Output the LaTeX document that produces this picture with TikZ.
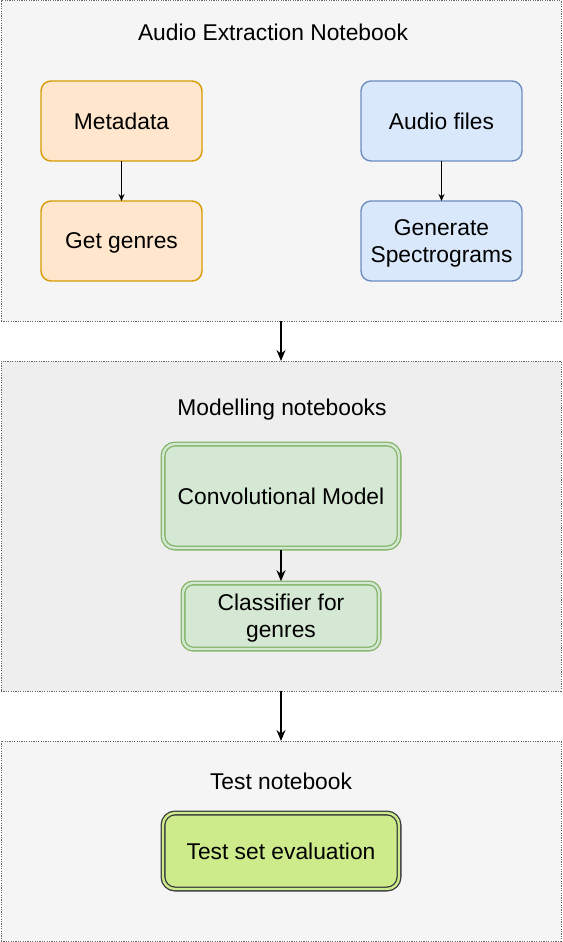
\documentclass[tikz,border=0pt]{standalone}
\usepackage{fontspec}
\setmainfont{Liberation Sans}
\usetikzlibrary{arrows.meta}
\definecolor{contfill}{HTML}{F5F5F5}
\definecolor{contfilltwo}{HTML}{EEEEEE}
\definecolor{contline}{HTML}{666666}
\definecolor{orfill}{HTML}{FFE6CC}
\definecolor{orline}{HTML}{D79B00}
\definecolor{blfill}{HTML}{DAE8FC}
\definecolor{blline}{HTML}{6C8EBF}
\definecolor{grfill}{HTML}{D5E8D4}
\definecolor{grline}{HTML}{82B366}
\definecolor{limefill}{HTML}{CDEB8B}
\definecolor{darkline}{HTML}{36393D}
\tikzset{
  container/.style={draw=contline, line width=1pt, dash pattern=on 1.2pt off 1.2pt, inner sep=0pt, outer sep=0pt},
  titletext/.style={inner sep=0pt, font=\fontsize{22.8}{27}\selectfont},
  procbox/.style={rounded corners=10pt, line width=1.4pt, minimum width=161pt, minimum height=80pt, inner sep=0pt, outer sep=0pt, align=center, text depth=0pt, font=\fontsize{22.8}{27}\selectfont},
  orangebox/.style={procbox, draw=orline, fill=orfill},
  bluebox/.style={procbox, draw=blline, fill=blfill},
  dblbox/.style={rounded corners=12pt, line width=1.3pt, double distance=2.4pt, inner sep=0pt, outer sep=1.8pt, align=center, text depth=0pt, font=\fontsize{22.8}{27}\selectfont},
  smallarrow/.style={draw=black, line width=1pt, -{Stealth[length=7pt,width=6pt]}},
  bigarrow/.style={draw=black, line width=1.5pt, -{Stealth[length=11pt,width=9pt]}},
}
\begin{document}
\begin{tikzpicture}[x=1pt,y=-1pt]
\useasboundingbox (0,0) rectangle (562,942);
% containers
\node[container, fill=contfill, minimum width=560pt, minimum height=320pt] (c1) at (281,161) {};
\node[container, fill=contfilltwo, minimum width=560pt, minimum height=330pt] (c2) at (281,526) {};
\node[container, fill=contfill, minimum width=560pt, minimum height=200pt] (c3) at (281,841) {};
% titles
\node[titletext, text depth=0pt] (t1) at (273,32) {Audio Extraction Notebook};
\node[titletext, text depth=0pt] (t2) at (282,407) {Modelling notebooks};
\node[titletext, text depth=0pt] (t3) at (281,781) {Test notebook};
% first container boxes
\node[orangebox] (meta) at (121.5,121) {Metadata};
\node[orangebox] (genres) at (121.5,241) {Get genres};
\node[bluebox] (audio) at (441.5,121) {Audio files};
\node[bluebox] (spec) at (441.5,241) {Generate\\Spectrograms};
% modelling boxes
\node[dblbox, draw=grline, double=grfill, fill=grfill, minimum width=236pt, minimum height=104pt] (conv) at (281,496) {Convolutional Model};
\node[dblbox, draw=grline, double=grfill, fill=grfill, minimum width=196pt, minimum height=66pt, rounded corners=10pt] (clf) at (281,616) {Classifier for\\genres};
% test box
\node[dblbox, draw=darkline, double=limefill, fill=limefill, minimum width=236pt, minimum height=76pt] (eval) at (281,851) {Test set evaluation};
% connectors
\draw[smallarrow] (meta.south) -- (genres.north);
\draw[smallarrow] (audio.south) -- (spec.north);
\draw[bigarrow] (c1.south) -- (c2.north);
\draw[bigarrow] (conv.south) -- (clf.north);
\draw[bigarrow] (c2.south) -- (c3.north);
\end{tikzpicture}
\end{document}
